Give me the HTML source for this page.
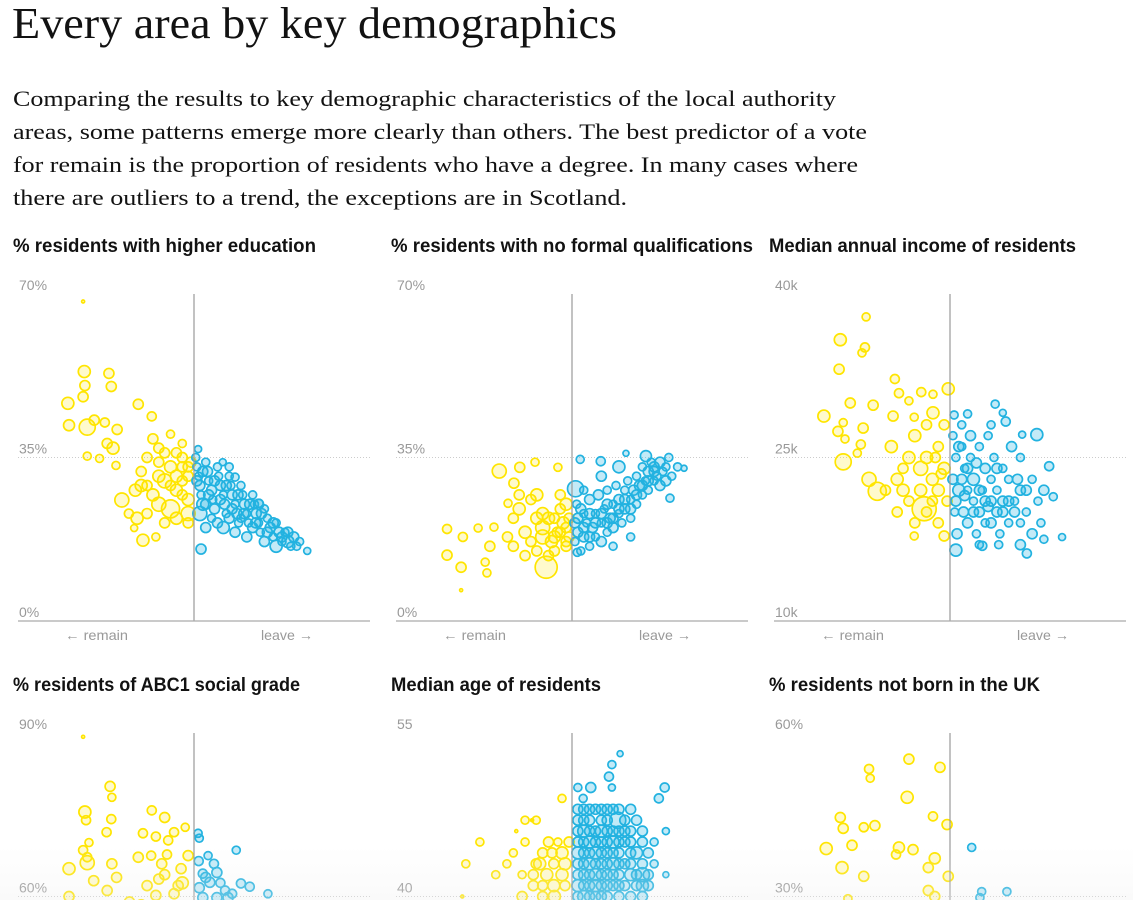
<!DOCTYPE html>
<html><head><meta charset="utf-8">
<style>
html,body{margin:0;padding:0;background:#fff;overflow:hidden;width:1133px;height:900px;}
svg{display:block;}
.serif{font-family:"Liberation Serif",serif;fill:#121212;}
.ptitle{font-family:"Liberation Sans",sans-serif;font-weight:bold;font-size:19px;fill:#121212;}
.tick{font-family:"Liberation Sans",sans-serif;font-size:14px;fill:#999;}
</style></head>
<body>
<svg id="root" width="1133" height="900" viewBox="0 0 1133 900" xmlns="http://www.w3.org/2000/svg" style="overflow:hidden">
<defs>
<linearGradient id="fade" x1="0" y1="0" x2="0" y2="1">
<stop offset="0" stop-color="#f2f2f2" stop-opacity="0"/>
<stop offset="1" stop-color="#eeeeee" stop-opacity="0.3"/>
</linearGradient>
</defs>
<text class="serif" x="12" y="38" font-size="44" textLength="605" lengthAdjust="spacingAndGlyphs">Every area by key demographics</text>
<g>
<text class="serif" x="13" y="106" font-size="22" textLength="823" lengthAdjust="spacingAndGlyphs">Comparing the results to key demographic characteristics of the local authority</text>
<text class="serif" x="13" y="139" font-size="22" textLength="854" lengthAdjust="spacingAndGlyphs">areas, some patterns emerge more clearly than others. The best predictor of a vote</text>
<text class="serif" x="13" y="172" font-size="22" textLength="845" lengthAdjust="spacingAndGlyphs">for remain is the proportion of residents who have a degree. In many cases where</text>
<text class="serif" x="13" y="205" font-size="22" textLength="614" lengthAdjust="spacingAndGlyphs">there are outliers to a trend, the exceptions are in Scotland.</text>
</g>
<g id="panels"></g>
<rect x="0" y="845" width="1133" height="55" fill="url(#fade)"/>
</svg>
<script>
// data: [leave %, value, radius]
const eduPoints = [
[31.1,68.4,1.5],[31.3,53.4,6],[35.5,53,5],[31.4,50.4,5],[35.9,50.2,5],[31.1,48,5],[28.5,46.6,6],[40.5,46.4,5],[42.8,43.8,4.5],[33,43,5],[34.8,42.5,4.5],[28.7,41.9,5.5],[31.8,41.5,8],[36.9,41,5],[35.2,38,5],[36.2,37,6],[31.8,35.3,4],[33.9,34.8,4],[36.7,33.3,4],[37.7,25.9,7],[38.9,23,4.5],[40.3,22,6],[39.8,19.9,3.5],[41.3,17.3,6],[43.5,18,4],
[42,35,5],[44,37,5],[46,33,6],[48,35,5],[45,30,7],[47,28,6],[43,27,6],[41,32,5],[44,25,7],[46,24,9],[48,30,5],[49,26,6],[42,23,5],[45,21,5],[47,22,6],[49,21,5],[43,39,5],[46,40,4],[48,38,4],[44,34,5],[41,29,6],[49,33,5],[47,36,5],[45,36,5],[48,27,5],[40,28,6],[49,23,7],[49.5,34,5],[49,31,5],[48,33,5],[47,31,6],[46,29,5],[44,31,6],[42,29,5],
[50.3,35,4],[50.5,33,4],[50.8,31,4],[51,29,5],[51.2,27,4],[51.5,25,6],[51,23,7],[52,34,4],[52.3,32,5],[52.5,30,4],[53,28,5],[53.2,26,4],[53.5,24,5],[54,33,4],[54.2,31,4],[54.5,29,5],[55,27,4],[55.2,25,5],[55.5,23,4],[56,31,4],[56.3,29,4],[56.5,27,5],[57,25,4],[57.3,23,5],[57.6,21,4],[58,29,4],[58.3,27,4],[58.6,25,5],[59,23,4],[59.3,21,4],[60,27,4],[60.3,25,4],[60.6,23,5],[61,21,4],[61.3,19,4],[62,24,4],[62.5,22,4],[63,20,5],[63.5,18,4],[64,21,4],[64.5,19,5],[65,17,4],[65.5,19,4],[66,17,6],[66.5,16,4],[67,18,5],[67.5,16,4],[68,17,4],[64,16,6],[62,17,5],[52,20,5],[53,22,4],[55,20,6],[57,19,5],[59,18,5],[56,33,4],[61,25,5],[58,22,4],[60,20,5],
[50.5,30,5],[51.5,32,5],[52.5,27,5],[53.5,30,5],[54.5,26,5],[55.5,29,5],[56.5,24,5],[57.5,27,5],[58.5,23,5],[59.5,25,5],[60.5,21,5],[61.5,23,5],[62.5,19,5],[63.5,21,5],[65,18,5],[66,19,5],[54,21,5],[56,22,5],[52,25,5],
[50.7,36.8,3.5],[54.9,34,3.5],[51.2,15.4,5],[69.3,15,3.5],[57,30.8,4],[61.1,25.2,4]
];
const noQualPoints = [
[37.6,32.1,7],[41.1,32.9,5],[43.7,34,4],[47.6,32.9,4],[28.7,19.7,4.5],[31.4,18,4.5],[34,19.9,4],[28.7,14.1,5],[31.1,11.5,5],[35.5,10.3,4],[35.2,12.6,4],[36,16,5],[36.7,20.1,4],[31.1,6.6,1.5],[45.6,11.5,11],[39.1,25.2,4],[40.1,29.5,5],
[40,22,5],[41,24,6],[43,26,5],[44,27,6],[42,19,6],[43,17,5],[45,20,7],[46,22,6],[47,18,6],[48,19,5],[49,20,5],[49,17,5],[47,15,5],[46,14,5],[48,24,5],[49,25,6],[40,16,5],[42,14,5],[44,15,5],[45,23,6],[49,16,5],[47,22,5],[45,18,7],[44,22,6],[41,27,5],[48,27,5],[39,18,5],[49.5,22,5],[48.5,21,6],[47.5,19,5],[46.5,17,6],[49.5,18,5],
[51.4,34.6,4],[54.9,34.2,4.5],[59.2,35.9,3],[62.6,35.3,5.5],[69.1,32.7,3],[66.7,26.3,4],[50.6,28.3,8],[50.9,14.7,4],
[50.5,17,4],[50.5,21,5],[50.8,25,4],[51,19,5],[51.5,15,4],[52,23,4],[52,18,5],[52.5,21,4],[53,26,5],[53,16,4],[53.5,20,5],[54,23,4],[54,18,4],[54.5,27,5],[55,21,4],[55,17,5],[55.5,24,4],[56,19,4],[56,28,4],[56.5,22,5],[57,25,4],[57,20,5],[57.5,29,4],[58,23,4],[58,26,5],[58.5,21,4],[59,28,4],[59,24,5],[59.5,30,4],[60,26,4],[60,22,4],[60.5,28,5],[61,31,4],[61,25,4],[61.5,29,5],[62,27,4],[62,33,4],[62.5,30,4],[63,32,5],[63,28,4],[63.5,34,4],[64,30,4],[64,33,5],[64.5,31,4],[65,34,5],[65,29,5],[65.5,32,4],[66,33,4],[66,30,5],[67,31,4],[68,33,4],[66.5,35,4],[52,28,4],[55,31,5],[58,33,6],[60,18,4],[57,16,4],
[51,22,5],[52,20,5],[53,23,5],[54,21,5],[55,23,5],[56,25,5],[57,22,5],[58,24,5],[59,26,5],[60,24,5],[61,27,5],[62,29,5],[63,30,5],[64,32,5],[56,21,5],[53,18,5],[51.5,24,5]
];
const incomePoints = [
[35.7,37.9,4],[31.3,35.8,6],[35.5,35.1,4.5],[35,34.6,4],[31.1,33.1,5],[40.6,32.2,4.5],[41.3,30.9,4.5],[45.1,31,4.5],[47.1,30.8,4],[49.7,31.3,6],[33,30,5],[36.9,29.8,5],[43,30.2,4],[28.5,28.8,6],[40.3,28.8,5],[43.9,28.7,4],[47.1,29.1,6],[31.8,28.2,4],[35.2,27.7,5],[30.9,27.4,5],[32.1,26.7,4],[34.8,26.2,4.5],[31.8,24.6,8],[34.2,25.4,4],[36.2,23,7],[37.6,21.9,9],[43.9,17.8,4],[45.6,20.3,12],[49,17.8,5],
[40,26,6],[42,24,5],[44,27,6],[46,25,6],[48,26,5],[47,23,6],[45,22,6],[43,21,5],[41,20,5],[44,19,5],[46,20,5],[48,22,6],[49,24,6],[42,22,6],[45,24,7],[47,21,5],[39,22,5],[43,25,6],[48,19,5],[41,23,6],[46,28,5],[49,28,5],[49.5,21,5],[48.5,23.5,5],[47.5,25,5],
[57.7,29.9,4],[59,29.1,3.5],[59.5,28.3,4.5],[50.7,28.9,4],[62.3,27.1,3.5],[64.8,27.1,6],[66.9,24.2,4.5],[67.6,21.4,4],[69.1,17.7,3.5],[63.1,16.2,4.5],[55.5,16.9,4.5],[58.3,17,4],[66,17.5,4],
[50.5,27,4],[50.5,23,5],[50.8,20,4],[51,25,4],[51.2,18,5],[51.5,22,6],[52,26,4],[52,28,4],[52.3,20,5],[52.5,24,4],[53,22,4],[53,19,5],[53.5,27,5],[53.5,25,4],[54,21,4],[54,23,6],[54.5,18,4],[55,26,4],[55,20,5],[55.5,22,4],[56,24,5],[56,19,4],[56.5,27,4],[57,21,5],[57,23,4],[57.5,25,4],[58,20,5],[58,22,4],[58.5,18,4],[59,24,4],[59,21,5],[60,23,4],[60,19,4],[60.5,26,5],[61,21,4],[61.5,23,5],[62,19,4],[62,25,4],[63,22,5],[63,20,4],[64,23,4],[64,18,5],[65,21,4],[65.5,19,4],[66,22,5],[51,16.5,6],[55,17,4],[53,29,4],[57,28,4],[62,17,5],
[51,21,5],[52,23,5],[53,24,5],[54,20,5],[55,22,5],[56,21,5],[57,19,5],[58,24,5],[59,20,5],[60,21,5],[61,20,5],[62,22,5],[52.5,21.5,5],[54.5,24.5,5],[56.5,20.5,5],[51.5,26,5]
];
const abc1Points = [
[31.1,89.3,1.5],[35.7,80.2,5],[36,78.2,4],[31.4,75.5,6],[35.9,74.2,4.5],[31.6,74,4.5],[42.8,75.8,4.5],[45,74.5,5],[35.1,71.8,4.5],[41.3,71.6,4.5],[43.5,71,4.5],[46.6,71.8,4.5],[48.5,72.7,4],[32.1,69.9,4],[45.6,70.3,4.5],[31.1,68.5,4.5],[31.8,67.2,4.5],[40.5,67.2,5],[42.7,67.5,4.5],[45.4,67.7,4.5],[28.7,65.1,6],[31.8,66.2,7],[36,66,5],[32.9,62.9,5],[36.8,63.5,5],[35.2,61.1,5],[44,63.2,5],[47.3,62,5],[49,67.5,5],[47.8,65.1,5],[28.7,60,5],[43.5,60.2,5],[46.6,60.5,5],[45,64,5],[48,62.5,6],[42,62,5],[44.5,66,5],[39,59,5],[41,58.5,5],
[50.7,71.6,4],[50.9,70.7,4],[52.4,67.5,4],[57.2,68.5,4],[53.4,66,4.5],[51.5,64.2,4.5],[53.9,64.4,5],[52.7,62.6,5],[58,62.4,4.5],[59.5,61.8,4.5],[62.6,60.5,4],[55.3,61.1,4.5],[50.9,61.6,5],[53.9,59.8,5],[51.5,59.8,5],[55.8,59.8,5],[52,63.5,5],[54.5,62.5,4.5],[50.8,66.5,4.5],[56.5,60.5,4.5]
];
const agePoints = [
[48.3,49,4],[42,47,4],[43.9,47,4],[43.2,47,1.5],[40.5,46,1.5],[34.3,45,4],[42,45,4],[46,45,5],[47.6,45,4],[49.5,45,5],[40,44,4],[45,44,5],[46.6,44,5],[48.3,44,6],[31.9,43,4],[38.9,43,4],[43.9,43,5],[44.5,43,6],[46.9,43,5],[48.8,43,6],[37,42,4],[41.5,42,4],[43.4,42,5],[45.7,42,6],[48.3,42,6],[43.4,41,5],[45,41,5],[46.9,41,6],[48.8,41,5],[41.5,40,5],[45,40,5],[31.3,40,1.5],[47,40,6],
[58.2,53.1,3],[56.8,52.1,4],[56.3,51,4.5],[56.8,50,3.5],[51,50,4],[53.2,50,5],[65.8,50,4.5],[64.8,49,4.5],[51.9,49,4],
[51,48,5],[52,48,5],[53,48,5],[54,48,5],[55,48,5],[56,48,5],[57,48,5],[58,48,5],[60,48,5],
[51,47,5],[52,47,5],[53,47,5],[55,47,5],[56,47,5],[57.8,47,8],[59,47,5],[61,47,5],
[51,46,5],[52,46,6],[53,46,5],[54,46,5],[55,46,6],[56,46,5],[57,46,5],[58,46,5],[59,46,5],[60,46,5],[62,46,5],[66,46,3.5],
[51,45,5],[52,45,5],[53,45,6],[54,45,5],[55,45,5],[56,45,5],[57,45,6],[58,45,5],[59,45,5],[60,45,5],[62,45,5],[64,45,4],
[51,44,6],[52,44,5],[53,44,5],[54,44,6],[55,44,5],[56,44,5],[57,44,5],[58,44,5],[60,44,5],[61,44,6],[63,44,5],
[51,43,5],[52,43,5],[53,43,6],[54,43,5],[55,43,5],[56,43,5],[57,43,6],[58,43,5],[59,43,5],[60,43,5],[62,43,5],[64,43,4],
[51,42,5],[52,42,5],[53,42,5],[54,42,6],[55,42,5],[56,42,5],[57,42,5],[58,42,5],[60,42,6],[61,42,5],[62,42,7],[63,42,5],[66,42,3],
[51,41,6],[52,41,5],[53,41,5],[54,41,6],[55,41,5],[56,41,5],[57,41,5],[58,41,5],[59,41,5],[61,41,5],[62,41,6],[63,41,5],
[51,40,5],[52,40,6],[53,40,5],[54,40,5],[55,40,5],[56,40,5],[58,40,5],[60,40,5],[62,40,5]
];
const foreignPoints = [
[43,55.2,5],[48.3,53.7,5],[36.2,53.4,4.5],[36.4,51.7,4],[42.7,48.2,6],[47.1,44.7,4.5],[31.3,44.5,5],[31.8,42.5,5],[35.3,42.7,4.5],[37.2,43,5],[49.5,43.2,5],[28.9,38.8,6],[33.3,39.4,5],[41.3,39,5.5],[43.7,38.6,5],[40.8,37.7,4.5],[47.4,37,5.5],[31.6,35.3,6],[35.3,33.7,5],[46.3,35.3,5],[49.7,33.7,5],[46.3,31.1,5],[47.4,30,5],[32.6,29.6,4],
[53.7,39,4],[55.4,30.9,4],[59.7,30.9,4],[55.1,29.8,4]
];
const panels = [
 {name:'higher-education', title:'% residents with higher education', tw:303, pts:eduPoints, min:0, max:70, ticks:['0%','35%','70%'], col:0, row:0},
 {name:'no-qualifications', title:'% residents with no formal qualifications', tw:362, pts:noQualPoints, min:0, max:70, ticks:['0%','35%','70%'], col:1, row:0},
 {name:'median-income', title:'Median annual income of residents', tw:307, pts:incomePoints, min:10, max:40, ticks:['10k','25k','40k'], col:2, row:0},
 {name:'abc1-grade', title:'% residents of ABC1 social grade', tw:287, pts:abc1Points, min:30, max:90, ticks:['30%','60%','90%'], col:0, row:1},
 {name:'median-age', title:'Median age of residents', tw:210, pts:agePoints, min:25, max:55, ticks:['25','40','55'], col:1, row:1},
 {name:'not-born-uk', title:'% residents not born in the UK', tw:271, pts:foreignPoints, min:0, max:60, ticks:['0%','30%','60%'], col:2, row:1}
];
const NS='http://www.w3.org/2000/svg';
const root=document.getElementById('panels');
function mk(tag,attrs,parent){const e=document.createElementNS(NS,tag);for(const k in attrs)e.setAttribute(k,attrs[k]);parent.appendChild(e);return e;}
const X0=18, W=352, TOP0=294, H=327, ROWOFF=439, FRAME=900;
panels.forEach(p=>{
  const ox=p.col*378, oy=p.row*ROWOFF;
  const g=mk('g',{},root);
  
  
  const xs=v=>ox+X0+(v-20)/60*W;
  const ys=v=>oy+TOP0+H-(v-p.min)/(p.max-p.min)*H;
  const t=mk('text',{x:ox+13,y:oy+252,'class':'ptitle',textLength:p.tw,lengthAdjust:'spacingAndGlyphs'},g);
  t.textContent=p.title;
  
  
  const mid=(p.min+p.max)/2;
  const gl=mk('line',{x1:ox+X0,x2:ox+X0+W,y1:ys(mid),y2:ys(mid),stroke:'#ccc','stroke-dasharray':'1,2','stroke-width':1},g);
  
  
  [p.min,mid,p.max].forEach((v,i)=>{
    if(ys(v)>FRAME) return;
    const tl=mk('text',{x:ox+19,y:ys(v)-4,'class':'tick'},g);
    tl.textContent=p.ticks[i];
    
    
  });
  const pg=mk('g',{},g);
  
  
  p.pts.forEach(d=>{
    const remain=d[0]<50;
    const cy=ys(d[1]);
    if(cy-d[2]>FRAME) return;
    const c=mk('circle',{cx:xs(d[0]),cy:cy,r:d[2],
      fill:remain?'rgba(255,229,0,0.2)':'rgba(39,181,225,0.28)',
      stroke:remain?'#ffe500':'#22b2e0','stroke-width':1.7},pg);
    
    
  });
  const vl=mk('line',{x1:xs(50),x2:xs(50),y1:oy+TOP0,y2:Math.min(oy+TOP0+H,FRAME),stroke:'#999','stroke-width':1.2},g);
  
  
  if(oy+TOP0+H<=FRAME){
    const bl=mk('line',{x1:ox+X0,x2:ox+X0+W,y1:oy+TOP0+H,y2:oy+TOP0+H,stroke:'#aaa','stroke-width':1.2},g);
    
    
    const rl=mk('text',{x:ox+65,y:oy+640,'class':'tick',textLength:63,lengthAdjust:'spacingAndGlyphs'},g);
    rl.textContent='← remain';
    
    
    const ll=mk('text',{x:ox+261,y:oy+640,'class':'tick',textLength:52,lengthAdjust:'spacingAndGlyphs'},g);
    ll.textContent='leave →';
    
    
  }
});
</script>
</body></html>
